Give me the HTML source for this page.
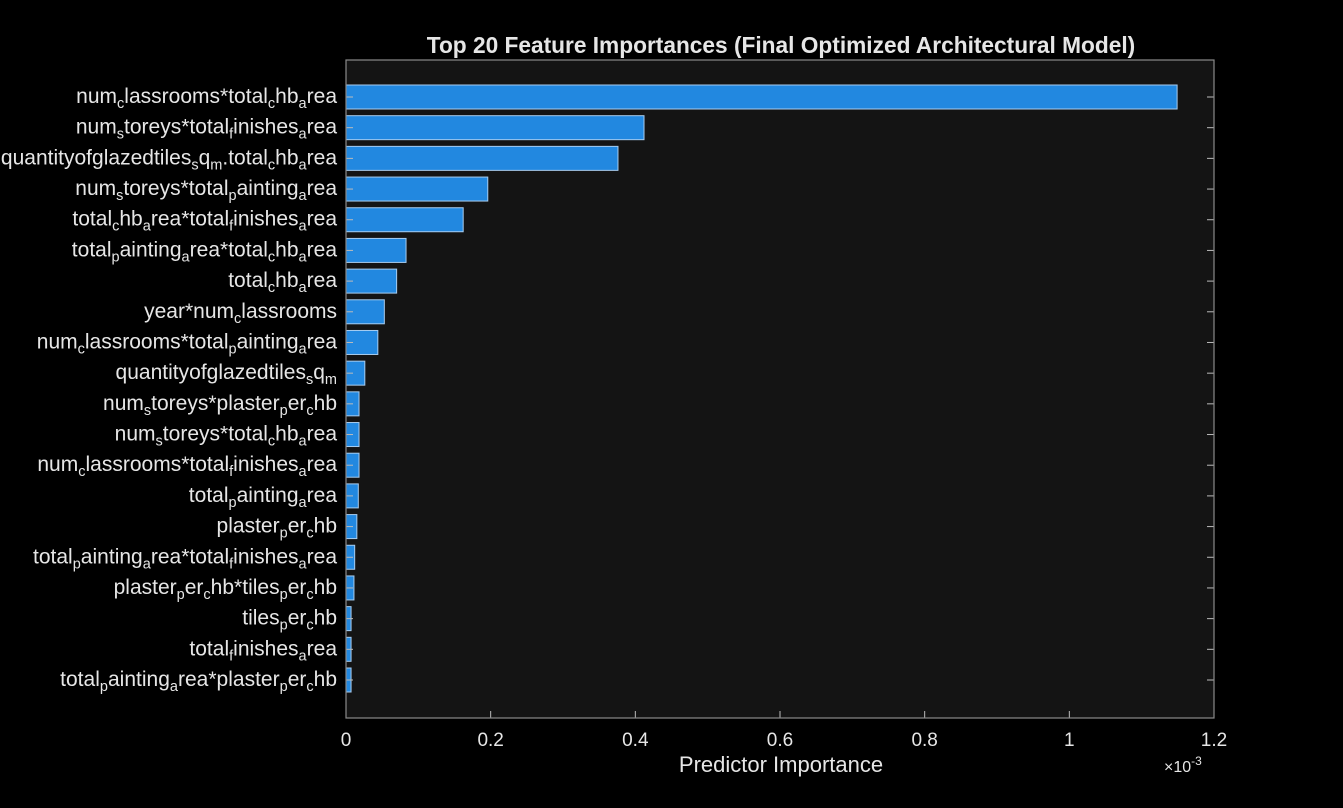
<!DOCTYPE html>
<html><head><meta charset="utf-8"><style>
html,body{margin:0;padding:0;background:#000;}
svg{display:block;font-family:"Liberation Sans",Arial,sans-serif;}
</style></head><body>
<svg id="chart" width="1343" height="808" viewBox="0 0 1343 808">
<rect x="0" y="0" width="1343" height="808" fill="#000"/>
<rect x="346" y="60" width="868" height="658" fill="#141414"/>
<g id="bars"></g>
<g id="yticks"></g>
<g id="xticks"></g>
<rect x="346" y="60" width="868" height="658" fill="none" stroke="#8a8a8a" stroke-width="1.2"/>
<text x="781" y="53" text-anchor="middle" font-size="22.7" font-weight="bold" fill="#e6e6e6">Top 20 Feature Importances (Final Optimized Architectural Model)</text>
<text x="781" y="772" text-anchor="middle" font-size="22" fill="#e6e6e6">Predictor Importance</text>
<text x="1164" y="772" font-size="16" fill="#e6e6e6">×10<tspan dy="-7" font-size="12">-3</tspan></text>
</svg>
<script>
const categories = [
"num_classrooms*total_chb_area","num_storeys*total_finishes_area","quantityofglazedtiles_sq_m.total_chb_area",
"num_storeys*total_painting_area","total_chb_area*total_finishes_area","total_painting_area*total_chb_area",
"total_chb_area","year*num_classrooms","num_classrooms*total_painting_area","quantityofglazedtiles_sq_m",
"num_storeys*plaster_per_chb","num_storeys*total_chb_area","num_classrooms*total_finishes_area",
"total_painting_area","plaster_per_chb","total_painting_area*total_finishes_area",
"plaster_per_chb*tiles_per_chb","tiles_per_chb","total_finishes_area","total_painting_area*plaster_per_chb"];
const values = [1.149,0.412,0.376,0.196,0.162,0.083,0.070,0.053,0.044,0.026,0.018,0.018,0.018,0.017,0.015,0.012,0.011,0.007,0.007,0.007];
const xTicks = [0,0.2,0.4,0.6,0.8,1,1.2];
const xTickLabels = ["0","0.2","0.4","0.6","0.8","1","1.2"];

const NS="http://www.w3.org/2000/svg";
const L=346,R=1214,T=60,B=718,xMax=1.2;
const xs=v=>L+(v/xMax)*(R-L);
const step=(680-97)/(categories.length-1);
const yc=i=>97+step*i;
function mk(t,a,p){const e=document.createElementNS(NS,t);for(const k in a)e.setAttribute(k,a[k]);p.appendChild(e);return e;}
const gb=document.getElementById('bars'),gy=document.getElementById('yticks'),gx=document.getElementById('xticks');
categories.forEach((c,i)=>{
  const y=yc(i),h=24;
  const r=mk('rect',{x:L,y:y-h/2,width:xs(values[i])-L,height:h,fill:'#2288e0',stroke:'#a8cdf0','stroke-width':1},gb);
  
  
  const t1=mk('line',{x1:L,x2:L+7,y1:y,y2:y,stroke:'#bbb','stroke-width':1},gy);
  
  
  const t2=mk('line',{x1:R-7,x2:R,y1:y,y2:y,stroke:'#bbb','stroke-width':1},gy);
  
  
  const tx=mk('text',{x:L-9,y:y+6,'text-anchor':'end','font-size':21,fill:'#e6e6e6'},gy);
  
  
  let inSub=false;
  for(let k=0;k<c.length;k++){
    if(c[k]==='_'&&k+1<c.length){
      const ts=mk('tspan',{'font-size':14.5,dy:inSub?0:5},tx);ts.textContent=c[k+1];
      inSub=true;k++;
    } else {
      const ts=mk('tspan',{dy:inSub?-5:0},tx);ts.textContent=c[k];
      inSub=false;
    }
  }
});
xTicks.forEach((v,i)=>{
  const x=xs(v);
  const t=mk('line',{x1:x,x2:x,y1:B-7,y2:B,stroke:'#bbb','stroke-width':1},gx);
  
  
  const tl=mk('text',{x:x,y:746,'text-anchor':'middle','font-size':19,fill:'#e6e6e6'},gx);
  
  
  tl.textContent=xTickLabels[i];
});
</script>
</body></html>
